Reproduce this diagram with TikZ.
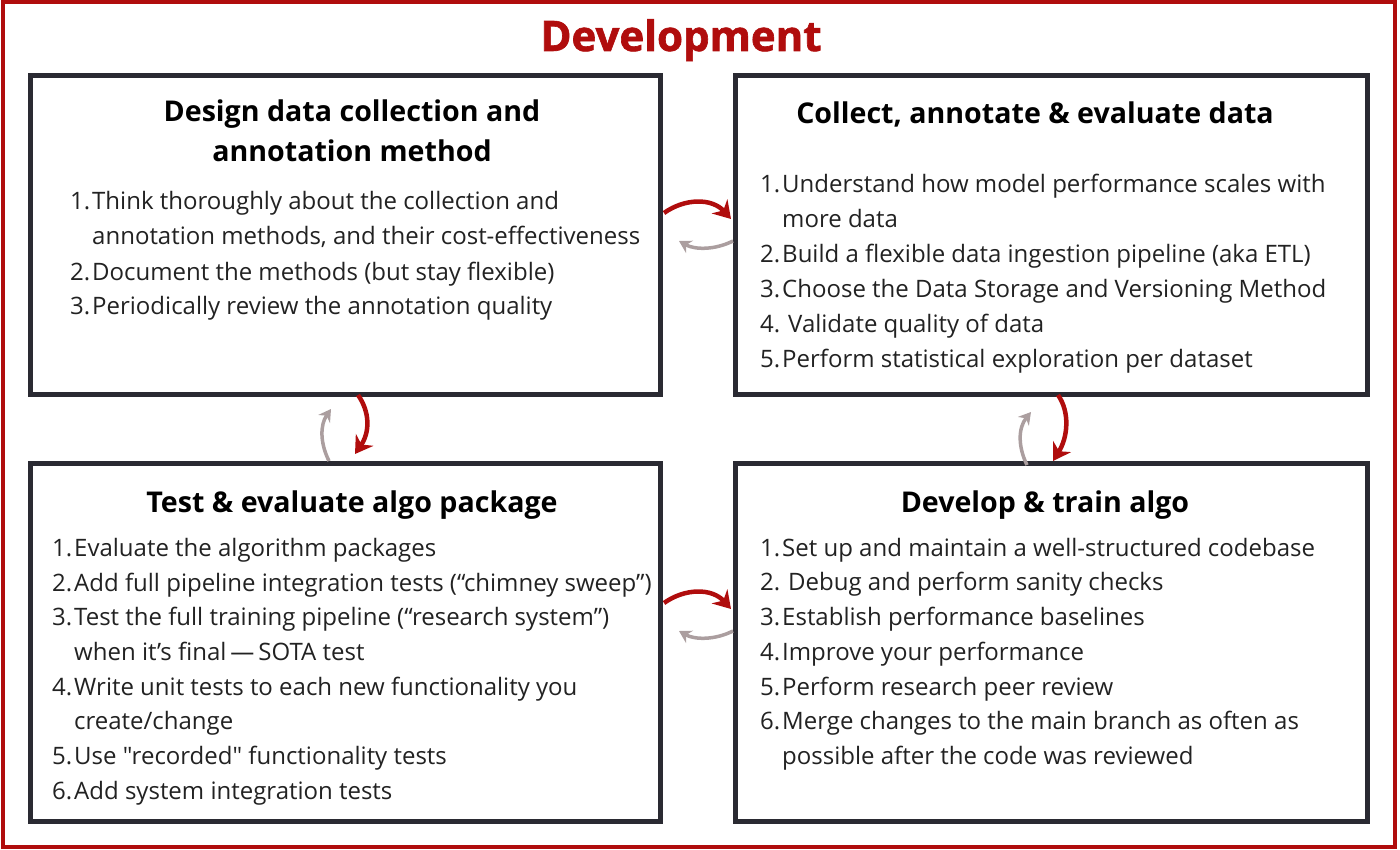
\documentclass[tikz,border=0pt]{standalone}
\usepackage{fontspec}
\setmainfont{Open Sans}[Ligatures=TeXOff]
\newfontfamily\heavyfont{Open Sans}[BoldFeatures={FakeBold=1.5}]
\usetikzlibrary{arrows.meta}
\definecolor{dred}{HTML}{B00D0D}
\definecolor{frame}{HTML}{2A2A32}
\definecolor{agrey}{HTML}{AB9E9F}
\definecolor{tcol}{HTML}{222222}
\tikzset{
  box/.style={draw=frame, line width=5pt, fill=white, rectangle, inner sep=0pt, outer sep=0pt, anchor=north west},
  txt/.style={anchor=base west, inner sep=0pt, text=tcol, font=\fontsize{24}{28}\selectfont},
  ttl/.style={anchor=base, inner sep=0pt, text=black, font=\bfseries\fontsize{28.6}{32}\selectfont},
  redarr/.style={draw=dred, line width=4.5pt, -{Stealth[length=17pt,width=21pt]}},
  greyarr/.style={draw=agrey, line width=3.5pt, -{Stealth[length=12pt,width=14pt]}},
}
\begin{document}
\begin{tikzpicture}[x=1pt,y=-1pt]
\useasboundingbox (0,0) rectangle (1400,850);
\draw[dred, line width=4pt] (2.5,2) rectangle (1395,847);
\node[anchor=base, inner sep=0pt, text=dred, font=\heavyfont\bfseries\fontsize{42}{46}\selectfont] (title) at (681,51) {Development};

% boxes
\node[box, minimum width=630pt, minimum height=318.5pt] (tl) at (30.5,75.5) {};
\node[box, minimum width=632pt, minimum height=318.5pt] (tr) at (735,75.5) {};
\node[box, minimum width=630pt, minimum height=357.5pt] (bl) at (30.5,463.5) {};
\node[box, minimum width=632pt, minimum height=357.5pt] (br) at (735,463.5) {};

% top-left
\node[ttl] (tlh1) at (352,122) {Design data collection and};
\node[ttl] (tlh2) at (352,162) {annotation method};
\node[txt] (tln1) at (70,210) {1.};
\node[txt] (tlt1) at (92,210) {Think thoroughly about the collection and};
\node[txt] (tlt1b) at (92,245) {annotation methods, and their cost-effectiveness};
\node[txt] (tln2) at (70,280) {2.};
\node[txt] (tlt2) at (92,280) {Document the methods (but stay flexible)};
\node[txt] (tln3) at (70,315) {3.};
\node[txt] (tlt3) at (92,315) {Periodically review the annotation quality};

% top-right
\node[ttl] (trh) at (1035,124) {Collect, annotate \& evaluate data};
\node[txt] (trn1) at (760,193) {1.};
\node[txt] (trt1) at (782,193) {Understand how model performance scales with};
\node[txt] (trt1b) at (782,228) {more data};
\node[txt] (trn2) at (760,263) {2.};
\node[txt] (trt2) at (782,263) {Build a flexible data ingestion pipeline (aka ETL)};
\node[txt] (trn3) at (760,298) {3.};
\node[txt] (trt3) at (782,298) {Choose the Data Storage and Versioning Method};
\node[txt] (trn4) at (760,332) {4.};
\node[txt] (trt4) at (788,332) {Validate quality of data};
\node[txt] (trn5) at (760,367) {5.};
\node[txt] (trt5) at (782,367) {Perform statistical exploration per dataset};

% bottom-left
\node[ttl] (blh) at (352,512) {Test \& evaluate algo package};
\node[txt] (bln1) at (52,556) {1.};
\node[txt] (blt1) at (74,556) {Evaluate the algorithm packages};
\node[txt] (bln2) at (52,591) {2.};
\node[txt] (blt2) at (74,591) {Add full pipeline integration tests (“chimney sweep”)};
\node[txt] (bln3) at (52,625) {3.};
\node[txt] (blt3) at (74,625) {Test the full training pipeline (“research system”)};
\node[txt] (blt3b) at (74,660) {when it’s final\,—\,SOTA test};
\node[txt] (bln4) at (52,695) {4.};
\node[txt] (blt4) at (74,695) {Write unit tests to each new functionality you};
\node[txt] (blt4b) at (74,729) {create/change};
\node[txt] (bln5) at (52,764) {5.};
\node[txt] (blt5) at (74,764) {Use "recorded" functionality tests};
\node[txt] (bln6) at (52,799) {6.};
\node[txt] (blt6) at (74,799) {Add system integration tests};

% bottom-right
\node[ttl] (brh) at (1045,512) {Develop \& train algo};
\node[txt] (brn1) at (760,556) {1.};
\node[txt] (brt1) at (782,556) {Set up and maintain a well-structured codebase};
\node[txt] (brn2) at (760,590) {2.};
\node[txt] (brt2) at (788,590) {Debug and perform sanity checks};
\node[txt] (brn3) at (760,625) {3.};
\node[txt] (brt3) at (782,625) {Establish performance baselines};
\node[txt] (brn4) at (760,660) {4.};
\node[txt] (brt4) at (782,660) {Improve your performance};
\node[txt] (brn5) at (760,695) {5.};
\node[txt] (brt5) at (782,695) {Perform research peer review};
\node[txt] (brn6) at (760,729) {6.};
\node[txt] (brt6) at (782,729) {Merge changes to the main branch as often as};
\node[txt] (brt6b) at (782,764) {possible after the code was reviewed};

% arrow end points
\coordinate (a1s) at (664,213);  \coordinate (a1e) at (731,219);
\coordinate (a2s) at (733,241);  \coordinate (a2e) at (679,241);
\coordinate (a3s) at (358,395);  \coordinate (a3e) at (355,454);
\coordinate (a4s) at (329,461);  \coordinate (a4e) at (331,409);
\coordinate (a5s) at (1058,395); \coordinate (a5e) at (1053,461);
\coordinate (a6s) at (1027,465); \coordinate (a6e) at (1031,412);
\coordinate (a7s) at (664,603);  \coordinate (a7e) at (731,609);
\coordinate (a8s) at (733,631);  \coordinate (a8e) at (679,631);

\draw[redarr] (a1s) .. controls (685,198) and (712,198) .. (a1e);
\draw[greyarr] (a2s) .. controls (715,250) and (695,250) .. (a2e);
\draw[redarr] (a3s) .. controls (370,412) and (370,432) .. (a3e);
\draw[greyarr] (a4s) .. controls (320,443) and (320,425) .. (a4e);
\draw[redarr] (a5s) .. controls (1070,412) and (1068,437) .. (a5e);
\draw[greyarr] (a6s) .. controls (1018,447) and (1018,428) .. (a6e);
\draw[redarr] (a7s) .. controls (685,588) and (712,588) .. (a7e);
\draw[greyarr] (a8s) .. controls (715,640) and (695,640) .. (a8e);
\end{tikzpicture}
\end{document}
